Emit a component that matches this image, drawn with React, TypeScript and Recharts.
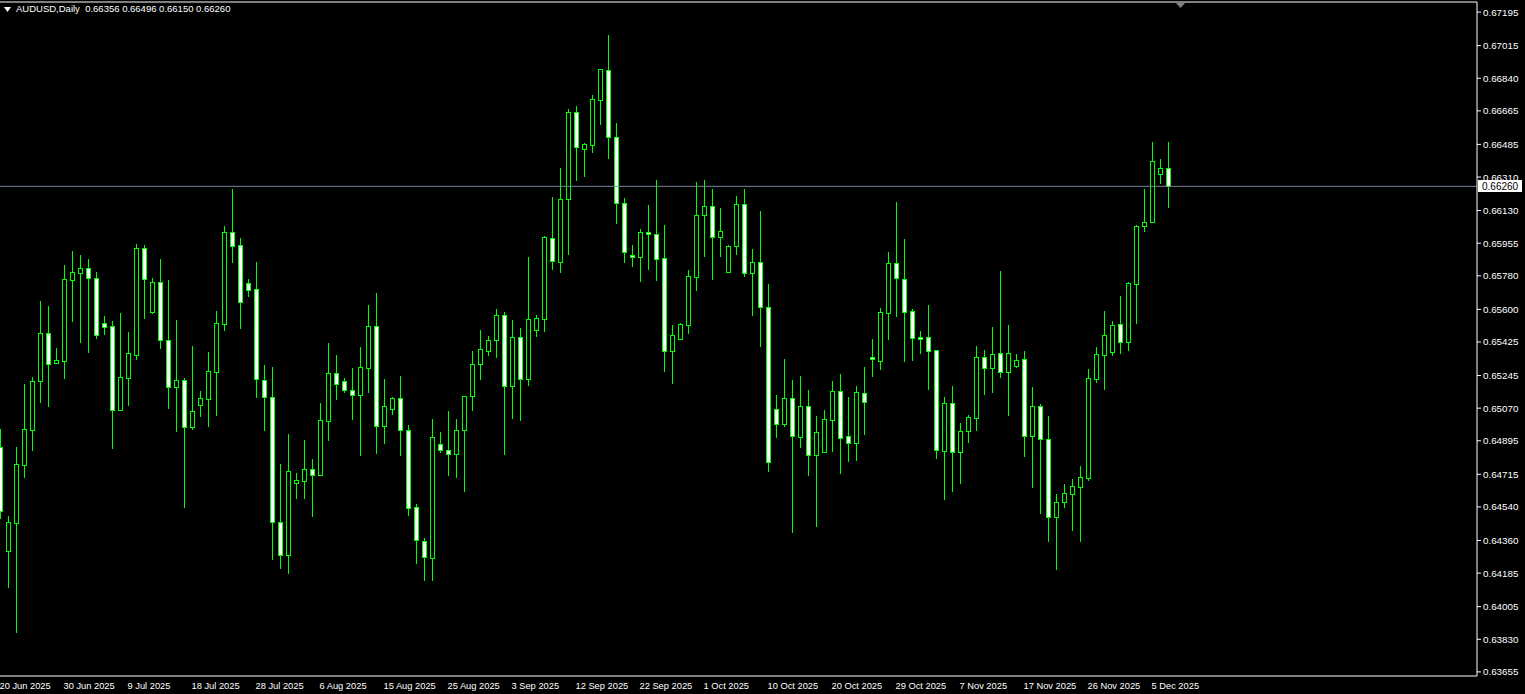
import { ComposedChart, Bar, XAxis, YAxis, ReferenceLine } from 'recharts';

const LIME = '#00ff00';
const FONT = '"Liberation Sans", Arial, sans-serif';

// AUDUSD daily, 20 Jun 2025 .. 8 Dec 2025 (bars include Sundays)
const open = [
  0.6486, 0.64305, 0.64456, 0.64767, 0.64954, 0.65217, 0.65471, 0.65314, 0.65325, 0.65759,
  0.65797, 0.6582, 0.65767, 0.65525, 0.65509, 0.65062, 0.65233, 0.65357, 0.65928, 0.65586,
  0.65745, 0.65434, 0.65182, 0.65219, 0.64971, 0.65089, 0.65121, 0.65266, 0.65523, 0.66013,
  0.65944, 0.6574, 0.65708, 0.65219, 0.65128, 0.64458, 0.64281, 0.64667, 0.64681, 0.64742,
  0.64713, 0.65003, 0.65257, 0.65214, 0.65166, 0.65139, 0.65287, 0.65509, 0.64976, 0.65067,
  0.65123, 0.64951, 0.64538, 0.64356, 0.64265, 0.64876, 0.64844, 0.64823, 0.64951, 0.65134,
  0.65305, 0.65375, 0.65434, 0.65568, 0.65187, 0.6545, 0.65225, 0.65488, 0.6555, 0.65981,
  0.65856, 0.6619, 0.66657, 0.66462, 0.66483, 0.66725, 0.66882, 0.66523, 0.66169, 0.6589,
  0.65882, 0.66015, 0.66003, 0.65874, 0.65378, 0.65439, 0.65518, 0.65775, 0.66108, 0.66153,
  0.6599, 0.65802, 0.65941, 0.66164, 0.65797, 0.65852, 0.65611, 0.65064, 0.64983, 0.65123,
  0.64914, 0.6508, 0.64821, 0.64836, 0.65008, 0.6516, 0.64919, 0.64885, 0.6515, 0.65343,
  0.65325, 0.65582, 0.65847, 0.65761, 0.6559, 0.65452, 0.6545, 0.6538, 0.64842, 0.65096,
  0.64836, 0.64949, 0.65019, 0.65343, 0.65287, 0.65364, 0.65266, 0.65298, 0.65332, 0.64922,
  0.6508, 0.64903, 0.64488, 0.64568, 0.64611, 0.64649, 0.64697, 0.65228, 0.65357, 0.65373,
  0.6552, 0.65423, 0.65738, 0.66045, 0.66067, 0.66324, 0.66356,
];
const high = [
  0.64958, 0.64492, 0.6486, 0.652, 0.65237, 0.65645, 0.65618, 0.65393, 0.65838, 0.65913,
  0.65892, 0.6587, 0.658, 0.65564, 0.65537, 0.6558, 0.65478, 0.65951, 0.65945, 0.65768,
  0.6587, 0.65757, 0.65543, 0.6523, 0.65403, 0.65162, 0.65371, 0.65591, 0.66047, 0.66246,
  0.65981, 0.65763, 0.65854, 0.65302, 0.65291, 0.64771, 0.64931, 0.64722, 0.64899, 0.64797,
  0.65098, 0.6542, 0.65355, 0.6523, 0.65285, 0.65398, 0.65623, 0.65688, 0.65226, 0.6513,
  0.65243, 0.6498, 0.64556, 0.64374, 0.65012, 0.64942, 0.65055, 0.65012, 0.65135, 0.65377,
  0.65489, 0.65457, 0.65602, 0.65586, 0.65543, 0.655, 0.65881, 0.6557, 0.65994, 0.66203,
  0.66358, 0.66675, 0.66691, 0.66492, 0.6675, 0.6689, 0.67072, 0.666, 0.66197, 0.65945,
  0.66031, 0.6616, 0.66294, 0.66053, 0.65516, 0.65527, 0.65811, 0.66283, 0.66294, 0.66246,
  0.66144, 0.65944, 0.66208, 0.66246, 0.65924, 0.66128, 0.65736, 0.65141, 0.65334, 0.65221,
  0.65243, 0.65167, 0.65028, 0.6506, 0.65216, 0.65253, 0.6513, 0.65189, 0.65291, 0.65441,
  0.65607, 0.65908, 0.66176, 0.65977, 0.65602, 0.65484, 0.65623, 0.65381, 0.6513, 0.65189,
  0.6499, 0.65033, 0.65403, 0.65382, 0.65505, 0.65806, 0.65516, 0.65361, 0.65377, 0.65184,
  0.65092, 0.65028, 0.6461, 0.64663, 0.6469, 0.6476, 0.6528, 0.65398, 0.65591, 0.65537,
  0.65672, 0.65745, 0.66053, 0.66246, 0.66498, 0.66407, 0.66496,
];
const low = [
  0.64479, 0.64112, 0.63869, 0.64702, 0.64847, 0.65103, 0.65083, 0.65312, 0.65233, 0.65537,
  0.65425, 0.65371, 0.65446, 0.65468, 0.64856, 0.6506, 0.65087, 0.65334, 0.65555, 0.65582,
  0.65394, 0.65071, 0.64949, 0.64541, 0.6496, 0.6503, 0.64976, 0.65035, 0.65491, 0.65856,
  0.65502, 0.65673, 0.6513, 0.64954, 0.64261, 0.64214, 0.64187, 0.6459, 0.6459, 0.64493,
  0.6471, 0.64901, 0.65119, 0.65158, 0.65012, 0.6482, 0.65158, 0.64831, 0.64885, 0.6504,
  0.6482, 0.64498, 0.64241, 0.6415, 0.6415, 0.64836, 0.64713, 0.64702, 0.64627, 0.65062,
  0.65228, 0.65355, 0.65346, 0.64826, 0.65019, 0.65008, 0.65196, 0.65459, 0.65486, 0.65818,
  0.65802, 0.65899, 0.66295, 0.66317, 0.66446, 0.66596, 0.66414, 0.66065, 0.65856, 0.65834,
  0.65754, 0.65818, 0.65759, 0.65271, 0.65207, 0.65439, 0.65475, 0.65704, 0.65886, 0.65763,
  0.65886, 0.65802, 0.65897, 0.65779, 0.6557, 0.65405, 0.64735, 0.64917, 0.64976, 0.64407,
  0.64863, 0.64712, 0.64438, 0.64836, 0.6484, 0.64724, 0.64787, 0.64792, 0.64931, 0.65243,
  0.6528, 0.65443, 0.65564, 0.65325, 0.6533, 0.65367, 0.65174, 0.64804, 0.64584, 0.64627,
  0.6467, 0.6489, 0.64954, 0.65148, 0.65158, 0.65239, 0.65035, 0.65291, 0.64815, 0.64649,
  0.64509, 0.64359, 0.64209, 0.64541, 0.64418, 0.64359, 0.64686, 0.65212, 0.65174, 0.65357,
  0.65367, 0.65384, 0.65528, 0.66022, 0.66067, 0.66279, 0.6615,
];
const close = [
  0.6452, 0.64458, 0.64769, 0.64957, 0.65214, 0.65471, 0.65305, 0.65327, 0.65761, 0.65799,
  0.6582, 0.6577, 0.65464, 0.65507, 0.65062, 0.65235, 0.65364, 0.65928, 0.65764, 0.65745,
  0.65434, 0.65182, 0.65219, 0.64971, 0.65053, 0.65123, 0.65268, 0.65525, 0.66013, 0.65941,
  0.65641, 0.65702, 0.65225, 0.65128, 0.64458, 0.64281, 0.64731, 0.64683, 0.64742, 0.64713,
  0.65006, 0.65257, 0.65198, 0.65166, 0.65139, 0.65289, 0.65509, 0.64976, 0.6508, 0.65123,
  0.64951, 0.64536, 0.64361, 0.6427, 0.64914, 0.64844, 0.64823, 0.64951, 0.65134, 0.65305,
  0.65386, 0.65434, 0.65568, 0.65187, 0.6545, 0.65225, 0.65547, 0.65552, 0.65987, 0.65858,
  0.6619, 0.66657, 0.66469, 0.66485, 0.66727, 0.66888, 0.66526, 0.66169, 0.65906, 0.65882,
  0.66015, 0.66003, 0.65872, 0.65378, 0.65461, 0.6552, 0.65777, 0.66104, 0.66153, 0.6599,
  0.66019, 0.6594, 0.66164, 0.65797, 0.65852, 0.65611, 0.6478, 0.64983, 0.65123, 0.64919,
  0.6508, 0.64821, 0.64941, 0.6501, 0.6516, 0.64912, 0.64885, 0.65155, 0.65101, 0.65332,
  0.65584, 0.65847, 0.65767, 0.65587, 0.65445, 0.65443, 0.65378, 0.64844, 0.65096, 0.64836,
  0.64946, 0.65021, 0.65343, 0.65287, 0.65359, 0.65266, 0.65364, 0.65327, 0.64922, 0.6508,
  0.64903, 0.64488, 0.64565, 0.64613, 0.64651, 0.64699, 0.6523, 0.65359, 0.65461, 0.65514,
  0.65423, 0.6574, 0.66045, 0.66067, 0.66394, 0.66357, 0.6626,
];

const dateLabels = [
  '20 Jun 2025', '30 Jun 2025', '9 Jul 2025', '18 Jul 2025', '28 Jul 2025', '6 Aug 2025',
  '15 Aug 2025', '25 Aug 2025', '3 Sep 2025', '12 Sep 2025', '22 Sep 2025', '1 Oct 2025',
  '10 Oct 2025', '20 Oct 2025', '29 Oct 2025', '7 Nov 2025', '17 Nov 2025', '26 Nov 2025',
  '5 Dec 2025',
];
const barsPerLabel = 8;

const priceTicks = [
  0.67195, 0.67015, 0.6684, 0.66665, 0.66485, 0.6631, 0.6613, 0.65955, 0.6578, 0.656,
  0.65425, 0.65245, 0.6507, 0.64895, 0.64715, 0.6454, 0.6436, 0.64185, 0.64005, 0.6383,
  0.63655,
];
const priceMin = 0.63633;
const priceMax = 0.67249;
const lastPrice = 0.6626;

const data = open.map((o, i) => ({
  i,
  open: o,
  high: high[i],
  low: low[i],
  close: close[i],
  range: [low[i], high[i]],
}));

const W = 1525;
const H = 694;
const AXIS_W = 48;
const PLOT_W = W - AXIS_W;
const PX_PER_BAR = 8;

function Candle(props: any) {
  const { x, y, width, height, payload } = props;
  if (x == null || payload == null) return null;
  const top = Math.min(y, y + height);
  const h = Math.abs(height);
  const span = payload.high - payload.low;
  const py = (p: number) => (span > 0 ? top + ((payload.high - p) / span) * h : top);
  const cx = Math.floor(x + width / 2) + 0.5;
  const bull = payload.close > payload.open;
  const yTop = Math.round(py(Math.max(payload.open, payload.close))) + 0.5;
  const yBot = Math.round(py(Math.min(payload.open, payload.close))) + 0.5;
  return (
    <g>
      <line
        x1={cx}
        x2={cx}
        y1={Math.round(py(payload.high))}
        y2={Math.round(py(payload.low)) + 1}
        stroke={LIME}
        strokeWidth={1}
      />
      <rect
        x={cx - 2}
        y={yTop}
        width={4}
        height={Math.max(yBot - yTop, 1)}
        fill={bull ? '#000000' : '#ffffff'}
        stroke={LIME}
        strokeWidth={1}
      />
    </g>
  );
}

// date text sits just under the bottom frame line
function DateTick(props: any) {
  const { x, payload } = props;
  const label = dateLabels[Math.round(payload.value / barsPerLabel)];
  return (
    <text x={x - 1} y={689} fill="#ffffff" fontSize={9.3} fontFamily={FONT} textAnchor="start">
      {label}
    </text>
  );
}

function PriceTag(props: any) {
  const { viewBox } = props;
  if (!viewBox) return null;
  const xr = viewBox.x + viewBox.width;
  const yy = Math.round(viewBox.y);
  return (
    <g>
      <rect x={xr + 1} y={yy - 6} width={44} height={12} fill="#ffffff" />
      <text x={xr + 5} y={yy + 4} fill="#000000" fontSize={10} fontFamily={FONT}>
        {lastPrice.toFixed(5)}
      </text>
    </g>
  );
}

export default function App() {
  const xTicks = dateLabels.map((_, k) => k * barsPerLabel);
  const halfPx = 0.5 / PX_PER_BAR;

  return (
    <div style={{ position: 'fixed', left: 0, top: 0, width: W, height: H, background: '#000000' }}>
      <ComposedChart
        width={W}
        height={H}
        data={data}
        margin={{ top: 2, right: 0, bottom: 0, left: 0 }}
        style={{ background: '#000000' }}
      >
        <XAxis
          dataKey="i"
          type="number"
          domain={[-halfPx, PLOT_W / PX_PER_BAR - halfPx]}
          allowDataOverflow
          ticks={xTicks}
          interval={0}
          height={18}
          axisLine={{ stroke: '#ffffff' }}
          tickLine={false}
          tick={<DateTick />}
        />
        <YAxis
          orientation="right"
          type="number"
          domain={[priceMin, priceMax]}
          allowDataOverflow
          ticks={priceTicks}
          interval={0}
          width={AXIS_W}
          axisLine={{ stroke: '#ffffff' }}
          tickLine={{ stroke: '#ffffff' }}
          tickSize={4}
          tickMargin={2}
          tick={{ fill: '#ffffff', fontSize: 9.8, fontFamily: FONT }}
          tickFormatter={(v: number) => v.toFixed(5)}
        />
        <ReferenceLine y={priceMax} stroke="#ffffff" />
        <Bar dataKey="range" barSize={8} shape={<Candle />} isAnimationActive={false} />
        <ReferenceLine y={lastPrice} stroke="#778899" label={<PriceTag />} />
      </ComposedChart>

      <div
        style={{
          position: 'absolute',
          left: 4,
          top: 2,
          color: '#ffffff',
          fontSize: 9.5,
          fontFamily: FONT,
          whiteSpace: 'pre',
          lineHeight: '14px',
        }}
      >
        <svg width={7} height={5} style={{ marginRight: 5, verticalAlign: 'middle' }}>
          <polygon points="0,0 7,0 3.5,5" fill="#ffffff" />
        </svg>
        {'AUDUSD,Daily  0.66356 0.66496 0.66150 0.66260'}
      </div>

      <svg width={12} height={8} style={{ position: 'absolute', left: 1175, top: 2 }}>
        <polygon points="0,0 11,0 5.5,6" fill="#808080" />
      </svg>
    </div>
  );
}
